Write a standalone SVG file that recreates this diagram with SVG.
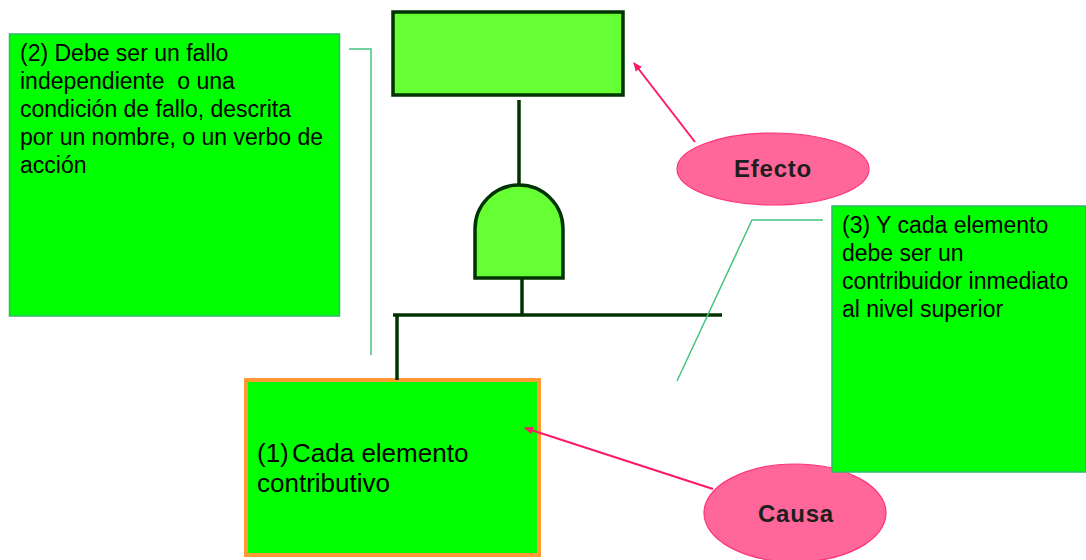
<svg xmlns="http://www.w3.org/2000/svg" width="1086" height="560" viewBox="0 0 1086 560">
<style>
.note{fill:#00ff00;stroke:#2fb86a;stroke-width:1.5}
.txt{font-family:"Liberation Sans",Arial,sans-serif;font-size:23px;fill:#000}
.big{font-family:"Liberation Sans",Arial,sans-serif;font-size:26px;fill:#000}
.lbl{font-family:"Liberation Sans",Arial,sans-serif;font-size:24px;font-weight:bold;fill:#1e1e1e;letter-spacing:0.8px}
.ft{fill:#66ff33;stroke:#003300;stroke-width:3.5}
.wire{stroke:#003300;stroke-width:3.5;fill:none}
.call{stroke:#44c47e;stroke-width:1.5;fill:none}
.ell{fill:#ff6699;stroke:#ff3377;stroke-width:1.2}
.arr{stroke:#ff1a66;stroke-width:2;fill:none;marker-end:url(#ah)}
</style>
<defs>
<marker id="ah" markerWidth="10" markerHeight="10" refX="8" refY="5" orient="auto" markerUnits="userSpaceOnUse">
<path d="M0,1 L9,5 L0,9 Z" fill="#ff1a66"/>
</marker>
</defs>
<rect width="1086" height="560" fill="#fff"/>
<g id="top-event"><rect class="ft" x="393" y="12" width="230" height="83"/></g>
<g id="and-gate"><path class="ft" d="M475,278 L475,229 A44,44 0 0 1 563,229 L563,278 Z"/></g>
<g id="causa"><ellipse class="ell" cx="795" cy="513" rx="91" ry="49"/><text class="lbl" x="796" y="522" text-anchor="middle">Causa</text></g>
<g id="note2"><rect class="note" x="9.5" y="34" width="330" height="282"/>
<text class="txt"><tspan x="20" y="61">(2) Debe ser un fallo</tspan><tspan x="20" y="89">independiente&#160; o una</tspan><tspan x="20" y="117">condición de fallo, descrita</tspan><tspan x="20" y="145">por un nombre, o un verbo de</tspan><tspan x="20" y="173">acción</tspan></text></g>
<g id="note3"><rect class="note" x="832" y="206" width="254" height="266"/>
<text class="txt"><tspan x="842" y="233">(3) Y cada elemento</tspan><tspan x="842" y="261">debe ser un</tspan><tspan x="842" y="289">contribuidor inmediato</tspan><tspan x="842" y="317">al nivel superior</tspan></text></g>
<g id="event1"><rect x="246" y="380" width="293" height="175" fill="#00ff00" stroke="#ff9933" stroke-width="4"/>
<text class="big" x="257" y="462">(1)</text><text class="big" x="292" y="462">Cada elemento</text><text class="big" x="257" y="492">contributivo</text></g>
<g id="efecto"><ellipse class="ell" cx="773" cy="169" rx="96" ry="36"/><text class="lbl" x="773" y="177" text-anchor="middle">Efecto</text></g>
<g id="connectors">
<path class="wire" d="M519,100 V184"/>
<path class="wire" d="M522,278 V315"/>
<path class="wire" d="M393,315 H722"/>
<path class="wire" d="M397,315 V380"/>
<path class="call" d="M349,49 H371 V355"/>
<path class="call" d="M823,220 H752 L677,381"/>
<path class="arr" d="M695,142 L634,63"/>
<path class="arr" d="M713,489 L525,428"/>
</g>
</svg>
